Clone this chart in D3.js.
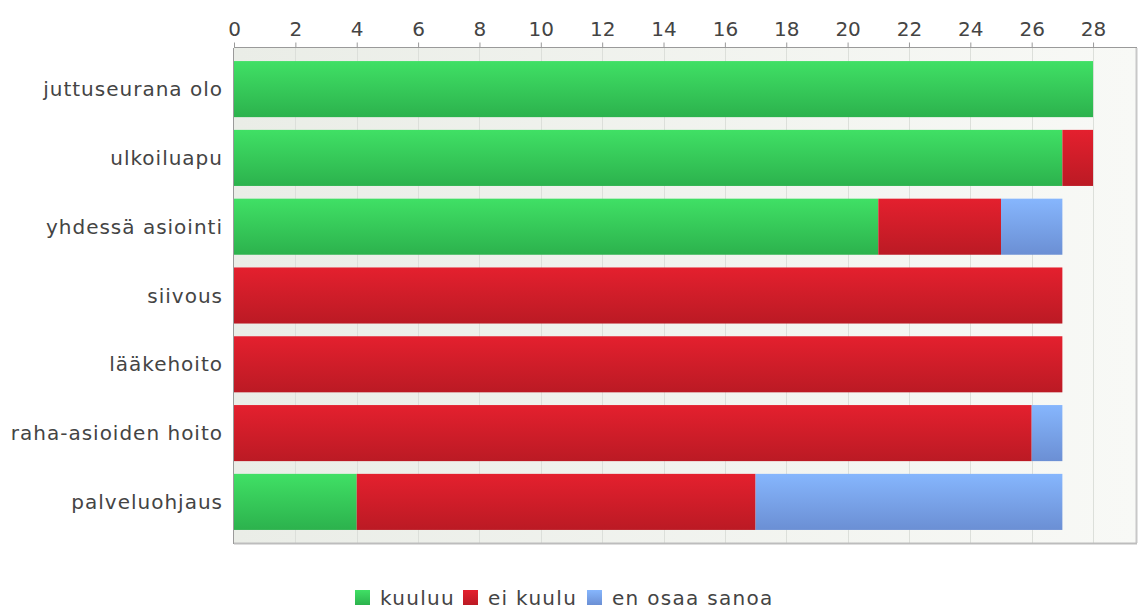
<!DOCTYPE html>
<html>
<head>
<meta charset="utf-8">
<script src="https://cdn.jsdelivr.net/npm/d3@7"></script>
<style>
  body { margin: 0; background: #fff; }
  svg { display: block; font-family: "DejaVu Sans", sans-serif; }
</style>
</head>
<body>
<svg id="chart" width="1143" height="610"></svg>
<script>
// data
var categories = ["juttuseurana olo", "ulkoiluapu", "yhdessä asiointi", "siivous", "lääkehoito", "raha-asioiden hoito", "palveluohjaus"];
var seriesNames = ["kuuluu", "ei kuulu", "en osaa sanoa"];
var kuuluu = [28, 27, 21, 0, 0, 0, 4];
var eiKuulu = [0, 1, 4, 27, 27, 26, 13];
var enOsaa = [0, 0, 2, 0, 0, 1, 10];
var ticks = [0, 2, 4, 6, 8, 10, 12, 14, 16, 18, 20, 22, 24, 26, 28];

var colors = [["#40e065", "#2cb24d"], ["#e4202e", "#bb1a24"], ["#86b6fd", "#6b8fd4"]];

var margin = { left: 234, right: 7, top: 48, bottom: 67 };
var width = 1143, height = 610;
var fontSize = 20;
var svg = d3.select("#chart");

var rows = categories.map(function(c, i) {
    return { cat: c, kuuluu: kuuluu[i], "ei kuulu": eiKuulu[i], "en osaa sanoa": enOsaa[i] };
});
var stack = d3.stack().keys(seriesNames)(rows);

var x = d3.scaleLinear().domain([0, 29.4]).range([margin.left, width - margin.right]);
var y = d3.scaleBand().domain(categories)
    .range([margin.top, height - margin.bottom])
    .paddingInner(0.185).paddingOuter(0.19);

var defs = svg.append("defs");
var bg = defs.append("linearGradient").attr("id", "bg").attr("x1", 0).attr("x2", 1).attr("y1", 0).attr("y2", 0);
bg.append("stop").attr("offset", 0).attr("stop-color", "#eaede7");
bg.append("stop").attr("offset", 1).attr("stop-color", "#f8f9f6");
colors.forEach(function(c, i) {
    var g = defs.append("linearGradient").attr("id", "g" + i).attr("x1", 0).attr("x2", 0).attr("y1", 0).attr("y2", 1);
    g.append("stop").attr("offset", 0).attr("stop-color", c[0]);
    g.append("stop").attr("offset", 1).attr("stop-color", c[1]);
});

// plot background
svg.append("rect")
    .attr("x", margin.left).attr("y", margin.top)
    .attr("width", width - margin.right - margin.left)
    .attr("height", height - margin.bottom - margin.top)
    .attr("fill", "url(#bg)");

// gridlines
svg.append("g").selectAll("line").data(ticks.slice(1)).enter().append("line")
    .attr("x1", function(d) { return Math.round(x(d)) + 0.5; })
    .attr("x2", function(d) { return Math.round(x(d)) + 0.5; })
    .attr("y1", margin.top).attr("y2", height - margin.bottom)
    .attr("stroke", "#dcdfda").attr("stroke-width", 1);

// bars
svg.append("g").selectAll("g").data(stack).enter().append("g")
    .attr("fill", function(d, i) { return "url(#g" + i + ")"; })
    .selectAll("rect").data(function(d) { return d; }).enter().append("rect")
    .attr("x", function(d) { return x(d[0]); })
    .attr("width", function(d) { return x(d[1]) - x(d[0]); })
    .attr("y", function(d) { return y(d.data.cat); })
    .attr("height", y.bandwidth());

// borders
svg.append("line")
    .attr("x1", width - margin.right + 0.5).attr("x2", width - margin.right + 0.5)
    .attr("y1", margin.top).attr("y2", height - margin.bottom)
    .attr("stroke", "#c8c8c8").attr("stroke-width", 2);
svg.append("line")
    .attr("x1", margin.left).attr("x2", width - margin.right + 1)
    .attr("y1", height - margin.bottom + 0.5).attr("y2", height - margin.bottom + 0.5)
    .attr("stroke", "#bdbdbd").attr("stroke-width", 2);
svg.append("line")
    .attr("x1", margin.left - 0.5).attr("x2", margin.left - 0.5)
    .attr("y1", margin.top).attr("y2", height - margin.bottom + 1)
    .attr("stroke", "#9a9a9a").attr("stroke-width", 1);

// top axis
var xAxis = svg.append("g")
    .attr("transform", "translate(0," + (margin.top - 0.5) + ")")
    .call(d3.axisTop(x).tickValues(ticks).tickSize(5).tickPadding(7).tickSizeOuter(0));
xAxis.select(".domain").attr("stroke", "#9a9a9a").attr("d", "M" + margin.left + ",0H" + (width - margin.right + 1));
xAxis.selectAll(".tick line").attr("stroke", "#9a9a9a");
xAxis.selectAll("text").attr("fill", "#444").attr("font-size", fontSize)
    .attr("font-family", "'DejaVu Sans', sans-serif");

// category labels
svg.append("g").selectAll("text").data(categories).enter().append("text")
    .attr("x", 223)
    .attr("y", function(d) { return y(d) + y.bandwidth() / 2; })
    .attr("dy", "0.35em")
    .attr("text-anchor", "end")
    .attr("font-size", fontSize)
    .attr("letter-spacing", 1)
    .attr("fill", "#444")
    .text(function(d) { return d; });

// legend
var legendX = [355, 463, 587];
var legend = svg.append("g");
var ly = 598;
seriesNames.forEach(function(s, i) {
    var lx = legendX[i];
    var item = legend.append("g");
    item.append("rect").attr("x", lx).attr("y", ly - 8).attr("width", 15).attr("height", 15)
        .attr("fill", "url(#g" + i + ")");
    item.append("text").attr("x", lx + 25).attr("y", ly).attr("dy", "0.35em")
        .attr("font-size", fontSize).attr("letter-spacing", 1.3).attr("fill", "#444").text(s);
});
</script>
</body>
</html>
